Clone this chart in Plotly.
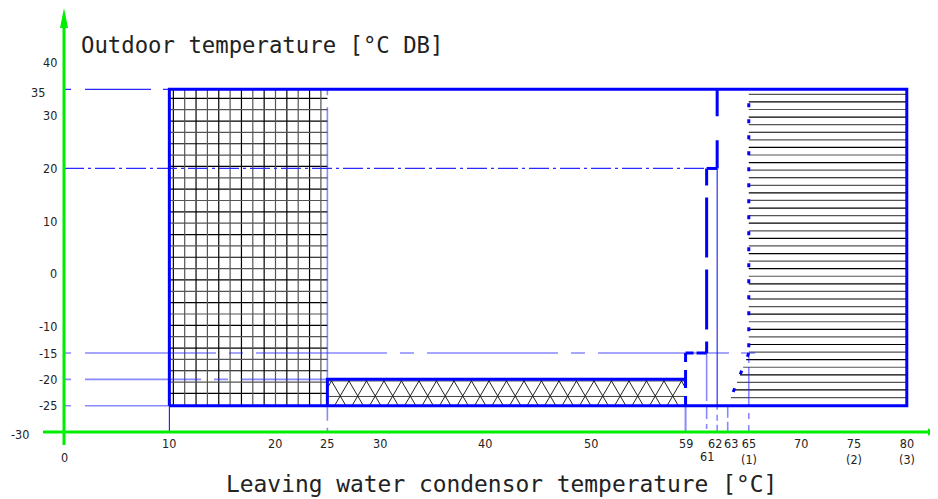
import numpy as np
import plotly.graph_objects as go

# ---------------- data ----------------
x_tick_vals = [0, 10, 20, 25, 30, 40, 50, 59, 61, 62, 63, 65, 70, 75, 80]
x_tick_text = ["0", "10", "20", "25", "30", "40", "50", "59", "61", "62", "63",
               "65<br>(1)", "70", "75<br>(2)", "80<br>(3)"]
y_tick_vals = [40, 35, 30, 20, 10, 0, -10, -15, -20, -25, -30]
y_tick_text = ["40", "35", "30", "20", "10", "0", "-10", "-15", "-20", "-25", "-30"]

# operating envelope: leaving water temperature limits [°C]
lwt_min, lwt_grid_max, lwt_cross_max = 10, 25, 59
lwt_step_low, lwt_step_high = 61, 62
lwt_slant_low, lwt_hatch_min, lwt_max = 63, 65, 80
# outdoor temperature limits [°C DB]
oat_max, oat_step, oat_low, oat_cross_top, oat_min = 35, 20, -15, -20, -25
oat_axis = -30

title_y = "Outdoor temperature [°C DB]"
title_x = "Leaving water condensor temperature [°C]"

# ---------------- styles / geometry ----------------
OFF = 8                              # page body margin of the html page
W, H = 938 - OFF, 499 - OFF
PX_X, PX_Y = 10.535, 5.273           # pixels per data unit
X0_PX, Y0_PX = 64.0 - OFF, 273.9 - OFF
xr = [-X0_PX / PX_X, (W - X0_PX) / PX_X]
yr = [(Y0_PX - H) / PX_Y, Y0_PX / PX_Y]


def dxp(p):
    return p / PX_X


def dyp(p):
    return p / PX_Y


BLUE = "#0000ff"
LIGHT = "rgba(40,40,255,0.55)"
GREEN = "#00ee00"
BLACK = "#000000"
GRAY = "#555555"
TICK_FONT = dict(family="Liberation Sans Narrow, DejaVu Sans Condensed, Arial Narrow, sans-serif",
                 size=12.5, color="#222222")
TITLE_FONT = dict(family="DejaVu Sans Mono, Liberation Mono, monospace", size=22.3, color="#222222")
XTITLE_FONT = dict(TITLE_FONT, size=22.9)

fig = go.Figure()


def line(xs, ys, color, width, dash="solid"):
    fig.add_trace(go.Scatter(x=xs, y=ys, mode="lines",
                             line=dict(color=color, width=width, dash=dash),
                             hoverinfo="skip", showlegend=False))


def multi(segs, color, width):
    xs, ys = [], []
    for (x1, y1, x2, y2) in segs:
        xs += [x1, x2, None]
        ys += [y1, y2, None]
    line(xs, ys, color, width)


# ---------------- hatch: square grid zone ----------------
gx = np.arange(lwt_min + dxp(4), lwt_grid_max - dxp(2), dxp(11.35))
gy = np.arange(oat_max - dyp(9), oat_min + dyp(3), -dyp(11.35))
for col, sl in ((BLACK, slice(0, None, 2)), (GRAY, slice(1, None, 2))):
    segs = [(x, oat_min, x, oat_max) for x in gx[sl]]
    segs += [(lwt_min, y, lwt_grid_max, y) for y in gy[sl]]
    multi(segs, col, 1.2)

# ---------------- hatch: horizontal lines zone ----------------
hy = np.arange(oat_max - dyp(5), oat_min + dyp(4), -dyp(7.58))


def left_edge(y):
    if y >= oat_low:
        return lwt_hatch_min
    return lwt_slant_low + (y - oat_min) / (oat_low - oat_min) * (lwt_hatch_min - lwt_slant_low)


for col, sl in ((GRAY, slice(0, None, 2)), (BLACK, slice(1, None, 2))):
    multi([(left_edge(y), y, lwt_max, y) for y in hy[sl]], col, 1.2)

# ---------------- hatch: triangular lattice zone ----------------
yc1 = oat_cross_top - dyp(1.6)
yc2 = oat_cross_top - dyp(17.1)
multi([(lwt_grid_max, yc1, lwt_cross_max, yc1), (lwt_grid_max, yc2, lwt_cross_max, yc2)], "#444444", 1)
slope = 1.714  # px down per px across
period = dxp(17.5)


def clip_seg(x1, y1, x2, y2, lo, hi):
    def at(xx):
        return y1 + (y2 - y1) * (xx - x1) / (x2 - x1)
    if x1 > x2:
        x1, y1, x2, y2 = x2, y2, x1, y1
    if x2 < lo or x1 > hi:
        return None
    nx1, ny1, nx2, ny2 = x1, y1, x2, y2
    if x1 < lo:
        nx1, ny1 = lo, at(lo)
    if x2 > hi:
        nx2, ny2 = hi, at(hi)
    return (nx1, ny1, nx2, ny2)


lat = []
for k in range(-2, 24):
    xc = lwt_grid_max + dxp(4.1) + k * period
    top_off = dxp((yc1 - oat_cross_top) * PX_Y / slope)
    bot_off = dxp((yc1 - oat_min) * PX_Y / slope)
    for s in (1, -1):
        sg = clip_seg(xc + s * top_off, oat_cross_top, xc + s * bot_off, oat_min,
                      lwt_grid_max, lwt_cross_max)
        if sg:
            lat.append(sg)
multi(lat, "#222222", 1)

# ---------------- thin reference lines ----------------
line([0, lwt_min], [oat_max, oat_max], "#2a2aff", 1.2, "7px,14px,66px,12px,40px")
line([0, lwt_step_high], [oat_step, oat_step], "#2a2aff", 1.3, "20px,4px,3px,4px")
line([0, lwt_hatch_min + 0.6], [oat_low, oat_low], LIGHT, 1.6,
     "7px,14px,131px,13px,14px,13px,131px,13px,14px,13px,131px,13px,14px,13px,131px,12px,16px")
line([0, lwt_grid_max], [oat_cross_top, oat_cross_top], LIGHT, 1.6, "7px,14px,116px,13px,14px,13px,200px")
line([0, lwt_min], [oat_min, oat_min], LIGHT, 1.6, "7px,14px,200px")
# vertical helper lines
line([lwt_grid_max, lwt_grid_max], [oat_max, oat_cross_top], LIGHT, 1.6, "6px,12px,600px")
line([lwt_step_high, lwt_step_high], [oat_step, oat_min], BLUE, 1)
# drop lines to the x axis
line([lwt_min, lwt_min], [oat_min, oat_axis], BLUE, 1)
line([lwt_grid_max, lwt_grid_max], [oat_min, oat_axis], LIGHT, 1.6, "15px,7px,4px")
line([lwt_cross_max, lwt_cross_max], [oat_min, oat_axis], LIGHT, 2)
line([lwt_step_low, lwt_step_low], [oat_low, oat_axis], LIGHT, 1.6, "48px,6px,12px,5px,5px,3px,10px")
line([lwt_step_high, lwt_step_high], [oat_min, oat_axis], LIGHT, 1.6, "4px,5px,6px,4px,10px")
line([lwt_slant_low, lwt_slant_low], [oat_min, oat_axis], LIGHT, 1.6, "12px,4px,12px")
line([lwt_hatch_min, lwt_hatch_min], [oat_low, oat_axis], LIGHT, 1.6, "10px,4px,40px,6px,6px,6px,12px")

# ---------------- thick envelope boundaries ----------------
line([lwt_min, lwt_min, lwt_max, lwt_max, lwt_min],
     [oat_min, oat_max, oat_max, oat_min, oat_min], BLUE, 3)
line([lwt_grid_max, lwt_grid_max, lwt_cross_max],
     [oat_min, oat_cross_top, oat_cross_top], BLUE, 3)
# stepped dashed limit
line([lwt_step_high, lwt_step_high], [oat_max, oat_step], BLUE, 3, "27px,24px,40px")
line([lwt_step_high, lwt_step_low], [oat_step, oat_step], BLUE, 3)
line([lwt_step_low, lwt_step_low], [oat_step, oat_low], BLUE, 3,
     "17px,12px,60px,12px,60px,12px,60px,12px,40px")
line([lwt_cross_max, lwt_step_low], [oat_low, oat_low], BLUE, 3, "8px,3px,20px")
line([lwt_cross_max, lwt_cross_max], [oat_low, oat_min], BLUE, 3, "9px,8px,18px,8px,20px")
# dotted limit of the horizontal-lines zone
line([lwt_hatch_min, lwt_hatch_min], [oat_max - dyp(14), oat_low], BLUE, 3, "4px,12px")
line([lwt_hatch_min, lwt_slant_low], [oat_low, oat_min], BLUE, 3, "4px,15px")

# ---------------- green axes with arrows ----------------
line([0, 0], [oat_axis - dyp(13), yr[1] - dyp(20)], GREEN, 3)
line([-dxp(21), xr[1] - dxp(8)], [oat_axis, oat_axis], GREEN, 3)
y_tip, y_base = yr[1], yr[1] - dyp(20)
x_tip, x_base = xr[1] + dxp(1), xr[1] - dxp(10)
shapes = [
    dict(type="path", xref="x", yref="y", line=dict(width=0), fillcolor=GREEN,
         path=f"M {-dxp(4)},{y_base} L {dxp(4)},{y_base} L 0,{y_tip} Z"),
    dict(type="path", xref="x", yref="y", line=dict(width=0), fillcolor=GREEN,
         path=f"M {x_base},{oat_axis + dyp(3.5)} L {x_base},{oat_axis - dyp(3.5)} L {x_tip},{oat_axis} Z"),
]

# ---------------- labels ----------------
ann = []
x_shift = {0: (0, -16), 61: (0, -15), 62: (-2, -2), 63: (3, -2)}
for v, t in zip(x_tick_vals, x_tick_text):
    xs, ys = x_shift.get(v, (0, -2))
    ann.append(dict(x=v, y=oat_axis, xref="x", yref="y", text=t, showarrow=False,
                    xanchor="center", yanchor="top", xshift=xs, yshift=ys, font=TICK_FONT))
y_shift = {35: (-17, -3), -30: (-33, -2)}
for v, t in zip(y_tick_vals, y_tick_text):
    xs, ys = y_shift.get(v, (-5, 0))
    ann.append(dict(x=0, y=v, xref="x", yref="y", text=t, showarrow=False,
                    xanchor="right", yanchor="middle", xshift=xs, yshift=ys, font=TICK_FONT))
ann.append(dict(x=(79 - OFF) / W, y=1 - (45 - OFF) / H, xref="paper", yref="paper", text=title_y,
                showarrow=False, xanchor="left", yanchor="middle", font=TITLE_FONT))
ann.append(dict(x=(501 - OFF) / W, y=1 - (484 - OFF) / H, xref="paper", yref="paper", text=title_x,
                showarrow=False, xanchor="center", yanchor="middle", font=XTITLE_FONT))

fig.update_layout(
    width=W, height=H, margin=dict(l=0, r=0, t=0, b=0),
    paper_bgcolor="white", plot_bgcolor="white",
    xaxis=dict(range=xr, visible=False, fixedrange=True),
    yaxis=dict(range=yr, visible=False, fixedrange=True),
    shapes=shapes, annotations=ann, showlegend=False,
)

fig.write_html("out.html")
